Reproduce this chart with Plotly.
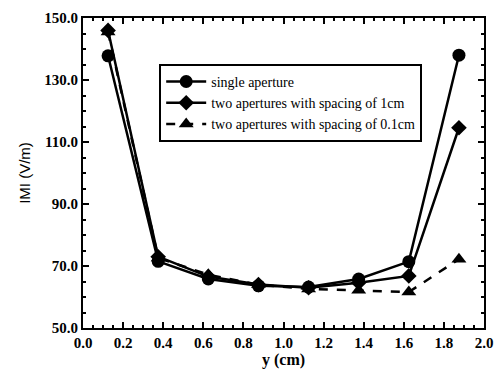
import plotly.graph_objects as go

y_cm = [0.125, 0.375, 0.625, 0.875, 1.125, 1.375, 1.625, 1.875]
single = [137.8, 71.5, 65.8, 63.6, 63.2, 65.8, 71.4, 138.0]
spacing_1cm = [146.0, 73.0, 66.6, 64.0, 63.0, 64.6, 66.8, 114.6]
spacing_01cm = [145.5, 72.6, 67.2, 64.0, 62.6, 62.2, 61.6, 72.2]

names = ["single aperture", "two apertures with spacing of 1cm", "two apertures with spacing of 0.1cm"]
x_ticks = [0.0, 0.2, 0.4, 0.6, 0.8, 1.0, 1.2, 1.4, 1.6, 1.8, 2.0]
y_ticks = [50.0, 70.0, 90.0, 110.0, 130.0, 150.0]

serif = "Liberation Serif"
fig = go.Figure()
fig.add_trace(go.Scatter(x=y_cm, y=single, name=names[0], mode="lines+markers",
                         line=dict(color="black", width=2.5),
                         marker=dict(symbol="circle", size=13, color="black")))
fig.add_trace(go.Scatter(x=y_cm, y=spacing_1cm, name=names[1], mode="lines+markers",
                         line=dict(color="black", width=2.5),
                         marker=dict(symbol="diamond", size=12, color="black")))
fig.add_trace(go.Scatter(x=y_cm, y=spacing_01cm, name=names[2], mode="lines+markers",
                         line=dict(color="black", width=2.5, dash="dash"),
                         marker=dict(symbol="triangle-up", size=13, color="black")))

axis_common = dict(showgrid=False, zeroline=False, showline=True, linecolor="black", linewidth=2,
                   mirror="allticks", ticks="inside", ticklen=6, tickwidth=1.5, tickcolor="black",
                   tickfont=dict(family=serif, size=15, color="black"))
fig.update_xaxes(range=[0, 2], tickvals=x_ticks, ticktext=[f"<b>{v:.1f}</b>" for v in x_ticks],
                 minor=dict(ticks="inside", ticklen=3, dtick=0.05, tickcolor="black"),
                 title=dict(text="<b>y (cm)</b>", font=dict(family=serif, size=16, color="black"), standoff=4),
                 **axis_common)
fig.update_yaxes(range=[50, 150], tickvals=y_ticks, ticktext=[f"<b>{v:.1f}</b>" for v in y_ticks],
                 minor=dict(ticks="inside", ticklen=3, dtick=5, tickcolor="black"),
                 title=dict(text="IMI (V/m)", font=dict(family="Liberation Sans", size=15, color="black"), standoff=10),
                 **axis_common)
fig.update_layout(width=503, height=382, margin=dict(l=83, r=10, t=13, b=54),
                  plot_bgcolor="white", paper_bgcolor="white",
                  legend=dict(x=0.19, y=0.852, xanchor="left", yanchor="top",
                              bgcolor="white", bordercolor="black", borderwidth=2,
                              font=dict(family=serif, size=14, color="black"),
                              tracegroupgap=0, itemwidth=40),
                  showlegend=True)
fig.write_html("out.html")
